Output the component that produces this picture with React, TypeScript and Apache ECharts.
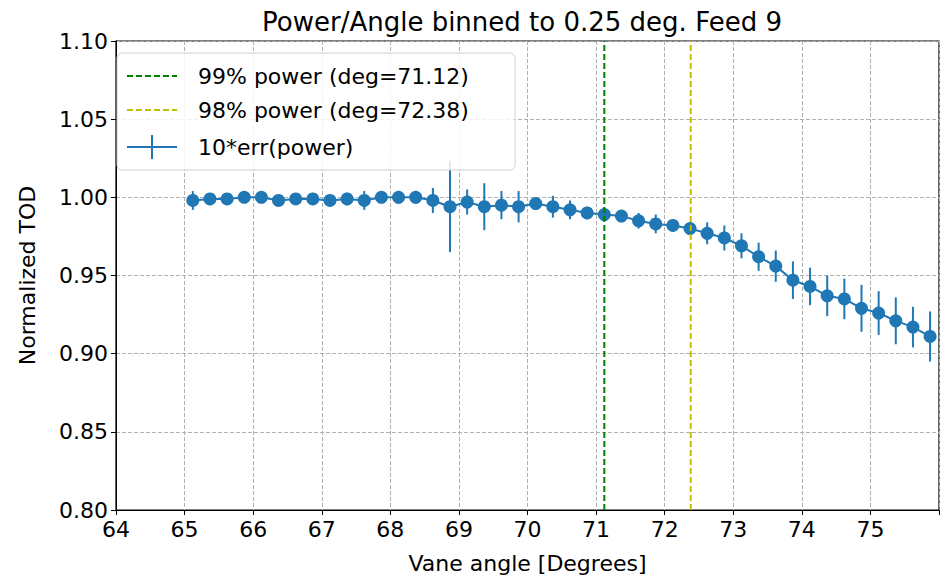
import React, { useEffect, useRef } from 'react';
import * as echarts from 'echarts';

const angles = [
  65.12, 65.37, 65.62, 65.87, 66.12, 66.37, 66.62, 66.87, 67.12, 67.37, 67.62,
  67.87, 68.12, 68.37, 68.62, 68.87, 69.12, 69.37, 69.62, 69.87, 70.12, 70.37,
  70.62, 70.87, 71.12, 71.37, 71.62, 71.87, 72.12, 72.37, 72.62, 72.87, 73.12,
  73.37, 73.62, 73.87, 74.12, 74.37, 74.62, 74.87, 75.12, 75.37, 75.62, 75.87,
];
const power = [
  0.998, 0.999, 0.999, 1.0, 1.0, 0.998, 0.999, 0.999, 0.998, 0.999, 0.998,
  1.0, 1.0, 1.0, 0.998, 0.994, 0.997, 0.994, 0.995, 0.994, 0.996, 0.994,
  0.992, 0.99, 0.989, 0.988, 0.985, 0.983, 0.982, 0.98, 0.977, 0.974, 0.969,
  0.962, 0.956, 0.947, 0.943, 0.937, 0.935, 0.929, 0.926, 0.921, 0.917, 0.911,
];
const errs = [
  0.006, 0.002, 0.002, 0.002, 0.002, 0.002, 0.002, 0.002, 0.002, 0.004, 0.006,
  0.002, 0.004, 0.004, 0.008, 0.029, 0.008, 0.015, 0.009, 0.01, 0.002, 0.007,
  0.006, 0.004, 0.004, 0.002, 0.005, 0.006, 0.004, 0.003, 0.007, 0.008, 0.008,
  0.009, 0.01, 0.012, 0.012, 0.013, 0.013, 0.015, 0.014, 0.015, 0.013, 0.016,
];
const deg99 = 71.12;
const deg98 = 72.38;

const BLUE = '#1f77b4';
const FONT = 'DejaVu Sans';

export default function App() {
  const ref = useRef<HTMLDivElement>(null);

  useEffect(() => {
    if (!ref.current) return;
    const chart = echarts.init(ref.current, undefined, { renderer: 'svg' });
    // div sits at (8,8) because of the body margin
    const legendY = [68, 102, 139];
    const option: any = {
      animation: false,
      textStyle: { fontFamily: FONT },
      grid: { left: 99, right: 2, top: 33, bottom: 65, show: true, borderColor: '#000', borderWidth: 1.2 },
      xAxis: {
        type: 'value', min: 64, max: 76, interval: 1,
        name: 'Vane angle [Degrees]', nameLocation: 'middle', nameGap: 42,
        nameTextStyle: { fontSize: 22, color: '#000' },
        axisLine: { lineStyle: { color: '#000' } },
        axisTick: { lineStyle: { color: '#000' }, length: 5 },
        axisLabel: { fontSize: 22, color: '#000', margin: 8, formatter: (v: number) => (v === 76 ? '' : String(v)) },
        splitLine: { lineStyle: { color: '#b0b0b0', type: 'dashed' } },
      },
      yAxis: {
        type: 'value', min: 0.8, max: 1.1, interval: 0.05,
        name: 'Normalized TOD', nameLocation: 'middle', nameGap: 78,
        nameTextStyle: { fontSize: 22, color: '#000' },
        axisLine: { show: true, lineStyle: { color: '#000' } },
        axisTick: { show: true, lineStyle: { color: '#000' }, length: 5 },
        axisLabel: { fontSize: 22, color: '#000', margin: 8, formatter: (v: number) => v.toFixed(2) },
        splitLine: { lineStyle: { color: '#b0b0b0', type: 'dashed' } },
      },
      series: [
        {
          type: 'custom',
          data: angles.map((a, i) => [a, power[i] - errs[i], power[i] + errs[i]]),
          renderItem: (params: any, api: any) => {
            const p0 = api.coord([api.value(0), api.value(1)]);
            const p1 = api.coord([api.value(0), api.value(2)]);
            return { type: 'line', shape: { x1: p0[0], y1: p0[1], x2: p1[0], y2: p1[1] }, style: { stroke: BLUE, lineWidth: 2 } };
          },
          z: 2,
        },
        {
          type: 'line',
          data: angles.map((a, i) => [a, power[i]]),
          symbol: 'circle', symbolSize: 13,
          lineStyle: { color: BLUE, width: 2 },
          itemStyle: { color: BLUE },
          z: 3,
        },
        {
          type: 'line', data: [[deg99, 0.8], [deg99, 1.1]], symbol: 'none',
          lineStyle: { color: 'green', width: 2, type: [6, 3] }, z: 4,
        },
        {
          type: 'line', data: [[deg98, 0.8], [deg98, 1.1]], symbol: 'none',
          lineStyle: { color: '#bfbf00', width: 2, type: [6, 3] }, z: 4,
        },
      ],
      graphic: [
        { type: 'text', x: 514, y: 14, style: { text: 'Power/Angle binned to 0.25 deg. Feed 9', font: `26px "${FONT}"`, fill: '#000', textAlign: 'center', textVerticalAlign: 'middle' } },
        { type: 'rect', shape: { x: 109, y: 45, width: 398, height: 117, r: 5 }, style: { fill: 'rgba(255,255,255,0.85)', stroke: '#d0d0d0', lineWidth: 1 }, z: 10 },
        { type: 'line', shape: { x1: 119, y1: legendY[0], x2: 169, y2: legendY[0] }, style: { stroke: 'green', lineWidth: 2, lineDash: [6, 3] }, z: 11 },
        { type: 'line', shape: { x1: 119, y1: legendY[1], x2: 169, y2: legendY[1] }, style: { stroke: '#bfbf00', lineWidth: 2, lineDash: [6, 3] }, z: 11 },
        { type: 'line', shape: { x1: 119, y1: legendY[2], x2: 169, y2: legendY[2] }, style: { stroke: BLUE, lineWidth: 2 }, z: 11 },
        { type: 'line', shape: { x1: 144, y1: legendY[2] - 12, x2: 144, y2: legendY[2] + 12 }, style: { stroke: BLUE, lineWidth: 2 }, z: 11 },
        { type: 'text', x: 190, y: legendY[0], style: { text: '99% power (deg=71.12)', font: `22px "${FONT}"`, fill: '#000', textVerticalAlign: 'middle' }, z: 11 },
        { type: 'text', x: 190, y: legendY[1], style: { text: '98% power (deg=72.38)', font: `22px "${FONT}"`, fill: '#000', textVerticalAlign: 'middle' }, z: 11 },
        { type: 'text', x: 190, y: legendY[2], style: { text: '10*err(power)', font: `22px "${FONT}"`, fill: '#000', textVerticalAlign: 'middle' }, z: 11 },
      ],
    };
    chart.setOption(option);
    return () => chart.dispose();
  }, []);

  return <div ref={ref} style={{ width: 934, height: 571 }} />;
}
